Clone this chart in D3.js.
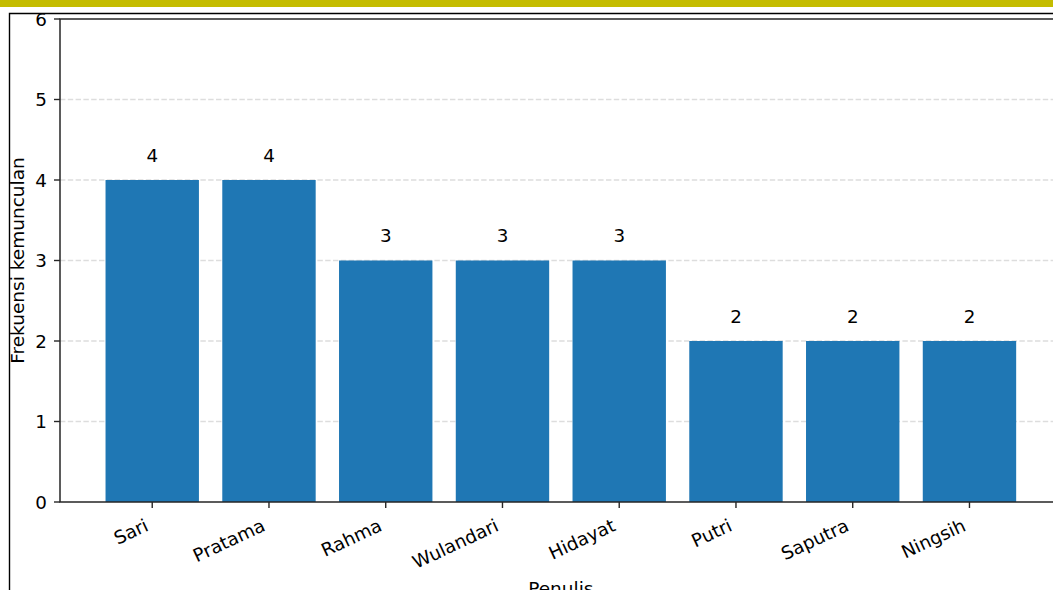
<!DOCTYPE html>
<html>
<head>
<meta charset="utf-8">
<script src="https://cdn.jsdelivr.net/npm/d3@7"></script>
<style>
  html, body { margin: 0; padding: 0; background: #fff; }
  svg { display: block; }
  text { font-family: "DejaVu Sans", sans-serif; fill: #000; }
</style>
</head>
<body>
<svg id="chart" width="1053" height="590"></svg>
<script>
const categories = ["Sari", "Pratama", "Rahma", "Wulandari", "Hidayat", "Putri", "Saputra", "Ningsih"];
const values = [4, 4, 3, 3, 3, 2, 2, 2];
const yTicks = [0, 1, 2, 3, 4, 5, 6];
const xLabel = "Penulis";
const yLabel = "Frekuensi kemunculan";

(function () {
const W = 1053, H = 590;
const svg = d3.select("#chart");

// top banner and frame
svg.append("rect").attr("x", 0).attr("y", 0).attr("width", W).attr("height", 7).attr("fill", "#c4bc00");
svg.append("path").attr("d", `M9.5,${H} V13.5 H${W}`).attr("fill", "none").attr("stroke", "#000").attr("stroke-width", 1.4);

const mLeft = 60, mRight = 1061.7, mTop = 19, mBottom = 502;
const n = categories.length;
// matplotlib-like index scale with margins
const x = d3.scaleLinear().domain([-0.79, n - 1 + 0.79]).range([mLeft, mRight]);
const y = d3.scaleLinear().domain([0, 6]).range([mBottom, mTop]);
const barW = x(0.8) - x(0);

// grid
svg.append("g").selectAll("line").data(yTicks.filter(t => t > 0 && t < 6)).join("line")
  .attr("x1", mLeft).attr("x2", mRight)
  .attr("y1", d => y(d)).attr("y2", d => y(d))
  .attr("stroke", "#dddddd").attr("stroke-width", 1.3).attr("stroke-dasharray", "5.4,2.4");

// bars
svg.append("g").selectAll("rect").data(values).join("rect")
  .attr("x", (d, i) => x(i) - barW / 2)
  .attr("y", d => y(d))
  .attr("width", barW)
  .attr("height", d => y(0) - y(d))
  .attr("fill", "#1f77b4");

// bar labels
svg.append("g").selectAll("text").data(values).join("text")
  .attr("x", (d, i) => x(i))
  .attr("y", d => y(d + 0.2) - 2)
  .attr("text-anchor", "middle")
  .attr("font-size", 18.3)
  .text(d => d);

// spines
svg.append("path")
  .attr("d", `M${mRight},${mTop} H${mLeft} V${mBottom} H${mRight}`)
  .attr("fill", "none").attr("stroke", "#262626").attr("stroke-width", 1.5);

// y axis ticks
const yAxis = svg.append("g");
yAxis.selectAll("line").data(yTicks).join("line")
  .attr("x1", mLeft - 6).attr("x2", mLeft)
  .attr("y1", d => y(d)).attr("y2", d => y(d))
  .attr("stroke", "#262626").attr("stroke-width", 1.4);
yAxis.selectAll("text").data(yTicks).join("text")
  .attr("x", mLeft - 13)
  .attr("y", d => y(d))
  .attr("dy", "0.36em")
  .attr("text-anchor", "end")
  .attr("font-size", 18.3)
  .text(d => d);

// x axis ticks
const xAxis = svg.append("g");
xAxis.selectAll("line").data(categories).join("line")
  .attr("x1", (d, i) => x(i)).attr("x2", (d, i) => x(i))
  .attr("y1", mBottom).attr("y2", mBottom + 6)
  .attr("stroke", "#262626").attr("stroke-width", 1.4);
xAxis.selectAll("text").data(categories).join("text")
  .attr("transform", (d, i) => `translate(${x(i) - 2.5},${mBottom + 28}) rotate(-25)`)
  .attr("text-anchor", "end")
  .attr("font-size", 18.3)
  .text(d => d);

// axis labels
svg.append("text")
  .attr("x", (mLeft + mRight) / 2)
  .attr("y", 595)
  .attr("text-anchor", "middle")
  .attr("font-size", 18.5)
  .text(xLabel);
svg.append("text")
  .attr("transform", `translate(24,${(mTop + mBottom) / 2}) rotate(-90)`)
  .attr("text-anchor", "middle")
  .attr("font-size", 18.5)
  .text(yLabel);
})();
</script>
</body>
</html>
